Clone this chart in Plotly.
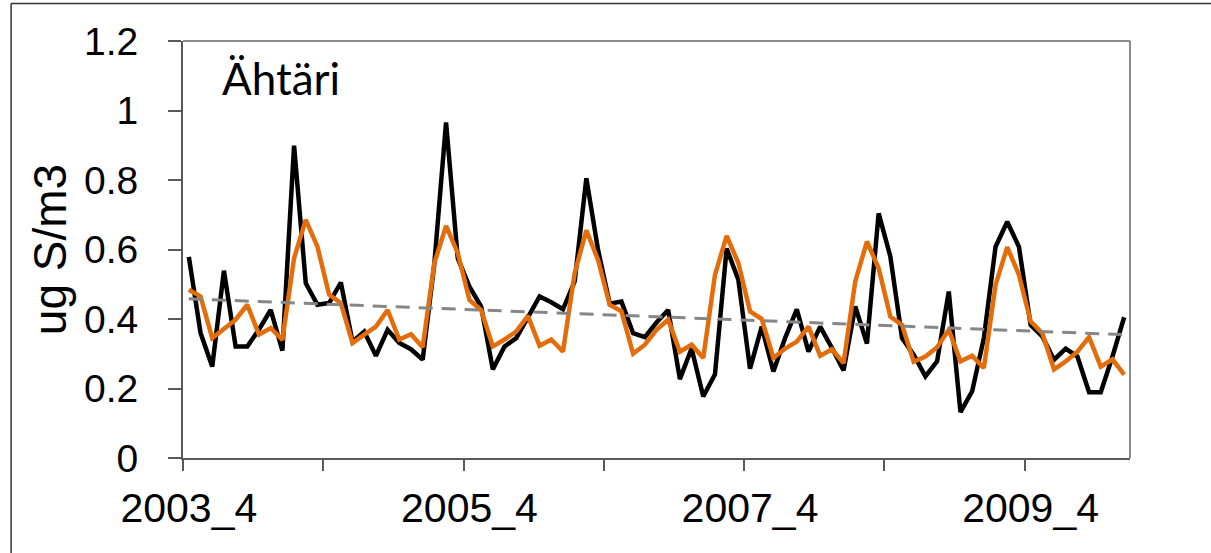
import plotly.graph_objects as go

# ---- data ----
months = [f"{y}_{m}" for y in range(2003, 2010) for m in range(1, 13)
          if not (y == 2003 and m < 4)]  # 2003_4 ... 2009_12 (81 categories)

measured = [0.579, 0.36, 0.263, 0.539, 0.321, 0.321, 0.37, 0.426, 0.309, 0.899,
            0.503, 0.441, 0.446, 0.505, 0.335, 0.364, 0.294, 0.369, 0.331, 0.313,
            0.283, 0.56, 0.966, 0.575, 0.493, 0.436, 0.255, 0.321, 0.345, 0.407,
            0.465, 0.448, 0.428, 0.508, 0.805, 0.599, 0.444, 0.450, 0.359, 0.348,
            0.39, 0.426, 0.227, 0.315, 0.177, 0.241, 0.603, 0.513, 0.257, 0.378,
            0.249, 0.345, 0.428, 0.306, 0.378, 0.317, 0.252, 0.436, 0.329, 0.704,
            0.580, 0.345, 0.297, 0.235, 0.278, 0.479, 0.132, 0.192, 0.345, 0.608,
            0.680, 0.608, 0.383, 0.350, 0.283, 0.315, 0.292, 0.189, 0.189, 0.292,
            0.405]

modelled = [0.484, 0.465, 0.345, 0.371, 0.398, 0.441, 0.355, 0.374, 0.340, 0.575,
            0.685, 0.608, 0.470, 0.446, 0.331, 0.355, 0.378, 0.426, 0.341, 0.356,
            0.319, 0.561, 0.668, 0.590, 0.455, 0.426, 0.321, 0.341, 0.364, 0.409,
            0.323, 0.341, 0.306, 0.532, 0.655, 0.570, 0.441, 0.422, 0.300, 0.326,
            0.369, 0.398, 0.306, 0.326, 0.288, 0.527, 0.639, 0.561, 0.422, 0.400,
            0.288, 0.315, 0.335, 0.378, 0.294, 0.313, 0.273, 0.508, 0.623, 0.546,
            0.407, 0.383, 0.277, 0.292, 0.319, 0.369, 0.278, 0.294, 0.259, 0.498,
            0.607, 0.527, 0.393, 0.359, 0.255, 0.278, 0.306, 0.348, 0.263, 0.284,
            0.240]

trend_x = [0, 80]          # category index of trend end points
trend_y = [0.458, 0.355]   # linear trend of the measured series

x_labels = ["2003_4", "2005_4", "2007_4", "2009_4"]
tick_boundaries = [-0.5, 11.5, 23.5, 35.5, 47.5, 59.5, 71.5]
y_ticks = [0, 0.2, 0.4, 0.6, 0.8, 1.0, 1.2]
station = "Ähtäri"
y_title = "ug S/m3"

# ---- figure ----
W, H = 1211, 553
L, R, T, B = 182.5, 1130, 41, 458.3

fig = go.Figure()
fig.add_trace(go.Scatter(x=months, y=measured, mode="lines",
                         line=dict(color="#000000", width=4.5), xaxis="x", yaxis="y"))
fig.add_trace(go.Scatter(x=months, y=modelled, mode="lines",
                         line=dict(color="#E46C0A", width=4.5), xaxis="x", yaxis="y"))
fig.add_trace(go.Scatter(x=trend_x, y=trend_y, mode="lines",
                         line=dict(color="#868686", width=3, dash="14px,9px"),
                         xaxis="x2", yaxis="y"))

font_main = "Liberation Sans, Arial, sans-serif"

fig.update_layout(
    width=W, height=H,
    margin=dict(l=L, r=W - R, t=T, b=H - B, pad=0),
    paper_bgcolor="white", plot_bgcolor="white",
    showlegend=False,
    font=dict(family=font_main, size=39, color="black"),
    xaxis=dict(type="category", range=[-0.5, 80.5], tickmode="array",
               tickvals=x_labels, ticktext=x_labels, ticks="",
               showgrid=False, zeroline=False, showline=True,
               linecolor="#595959", linewidth=2, ticklabelstandoff=13,
               tickfont=dict(size=41), automargin=False),
    xaxis2=dict(type="linear", overlaying="x", range=[-0.5, 80.5],
                tickmode="array", tickvals=tick_boundaries,
                ticktext=[""] * len(tick_boundaries), ticks="outside",
                ticklen=12, tickwidth=1.5, tickcolor="#595959",
                showgrid=False, zeroline=False, showline=False,
                side="bottom", anchor="y", automargin=False),
    yaxis=dict(range=[0, 1.2], tickmode="array", tickvals=y_ticks,
               ticks="outside", ticklen=13, tickwidth=1.5, tickcolor="#595959",
               showgrid=False, zeroline=False, showline=True,
               linecolor="#595959", linewidth=2, ticklabelstandoff=22,
               tickfont=dict(size=39), automargin=False,
               title=dict(text=y_title, font=dict(size=46), standoff=3)),
)

# plot-area top/right border (gray)
fig.add_shape(type="line", xref="paper", yref="paper", x0=0, x1=1, y0=1, y1=1,
              line=dict(color="#8c8c8c", width=2))
fig.add_shape(type="line", xref="paper", yref="paper", x0=1, x1=1, y0=0, y1=1,
              line=dict(color="#8c8c8c", width=2))

# outer chart frame (left and top edges visible)
pw, ph = R - L, B - T
def px_x(v):
    return (v - L) / pw
def px_y(v):
    return (B - v) / ph
fig.add_shape(type="line", xref="paper", yref="paper",
              x0=px_x(10.5), x1=px_x(1215), y0=px_y(3.5), y1=px_y(3.5),
              line=dict(color="#333333", width=1.5))
fig.add_shape(type="line", xref="paper", yref="paper",
              x0=px_x(10.5), x1=px_x(10.5), y0=px_y(3.5), y1=px_y(560),
              line=dict(color="#333333", width=1.5))

fig.add_annotation(text=station, xref="paper", yref="paper",
                   x=px_x(220), y=px_y(106), xanchor="left", yanchor="bottom",
                   showarrow=False, font=dict(family="Lato, Open Sans, sans-serif",
                                              size=44, color="black"))

fig.write_html("out.html",
               config={"displayModeBar": False},
               post_script="document.body.style.margin='0';"
                           "document.body.style.overflow='hidden';")
